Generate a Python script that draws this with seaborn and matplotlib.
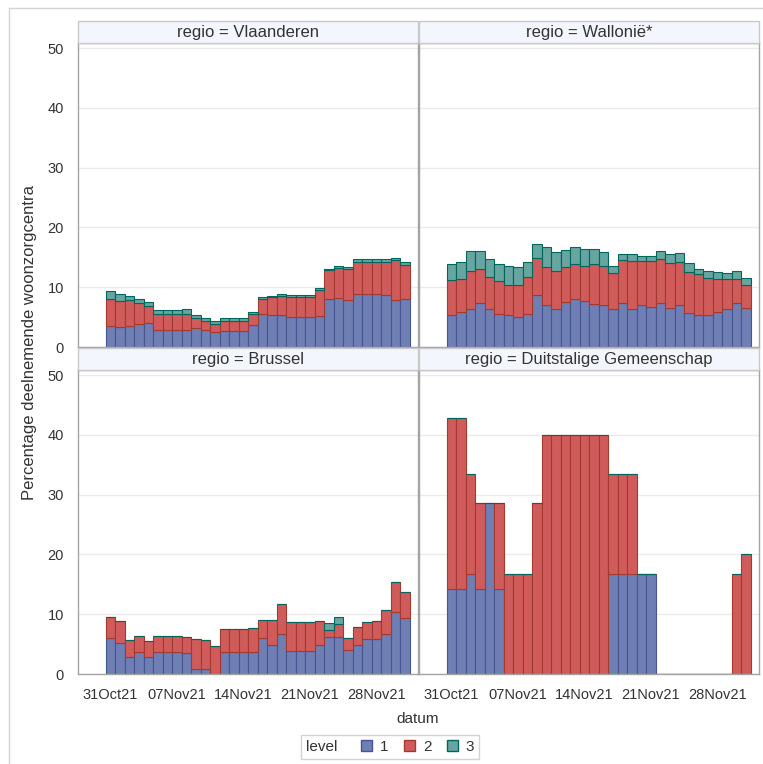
import numpy as np
import pandas as pd
import matplotlib
matplotlib.use("Agg")
import matplotlib.pyplot as plt
import matplotlib.dates as mdates
from matplotlib.patches import Rectangle, Patch
from matplotlib.lines import Line2D
import seaborn as sns

# ---------------------------------------------------------------- data
dates = pd.date_range("2021-10-31", "2021-12-01", freq="D")
regions = ["Vlaanderen", "Wallonië*", "Brussel", "Duitstalige Gemeenschap"]
levels = ["1", "2", "3"]
tick_dates = ["2021-10-31", "2021-11-07", "2021-11-14", "2021-11-21", "2021-11-28"]

vla_1 = [3.5, 3.3, 3.5, 3.8, 4.0, 2.8, 2.8, 2.8, 2.9, 3.1, 2.9, 2.5, 2.7, 2.7, 2.7, 3.7,
         5.5, 5.3, 5.3, 5.0, 5.0, 5.1, 5.2, 8.0, 8.2, 7.8, 8.8, 8.8, 8.8, 8.7, 7.8, 8.0]
vla_2 = [4.5, 4.4, 4.4, 3.6, 2.9, 2.8, 2.8, 2.8, 2.7, 1.7, 1.5, 1.3, 1.6, 1.6, 1.6, 1.8,
         2.6, 3.0, 3.3, 3.4, 3.4, 3.3, 4.4, 4.8, 5.0, 5.3, 5.5, 5.5, 5.5, 5.6, 6.7, 5.7]
vla_3 = [1.4, 1.1, 0.6, 0.7, 0.6, 0.6, 0.6, 0.6, 0.8, 0.5, 0.5, 0.5, 0.5, 0.5, 0.5, 0.4,
         0.2, 0.2, 0.3, 0.3, 0.3, 0.3, 0.3, 0.3, 0.3, 0.3, 0.4, 0.4, 0.4, 0.4, 0.4, 0.6]

wal_1 = [5.3, 5.8, 6.3, 7.4, 6.4, 5.5, 5.3, 5.1, 5.5, 8.7, 7.1, 6.4, 7.5, 8.1, 7.7, 7.2,
         7.1, 6.3, 7.4, 6.4, 7.1, 6.7, 7.3, 6.6, 7.0, 5.7, 5.4, 5.4, 5.8, 6.3, 7.3, 6.6]
wal_2 = [5.9, 5.5, 6.4, 5.7, 5.3, 5.5, 5.1, 5.3, 6.2, 6.2, 6.3, 6.3, 5.8, 5.7, 5.9, 6.6,
         6.5, 6.1, 7.2, 8.0, 7.3, 7.7, 7.5, 7.5, 7.2, 6.8, 6.8, 6.2, 5.6, 5.1, 4.1, 3.7]
wal_3 = [2.6, 3.0, 3.4, 3.0, 3.0, 2.9, 3.1, 2.9, 2.6, 2.4, 3.3, 3.2, 2.9, 2.9, 2.8, 2.6,
         2.3, 1.2, 1.0, 1.2, 0.9, 0.9, 1.3, 1.5, 1.5, 1.6, 0.8, 1.1, 1.2, 0.9, 1.3, 1.2]

bru_1 = [6.1, 5.2, 2.8, 3.7, 2.8, 3.6, 3.6, 3.6, 3.5, 0.9, 0.8, 0.0, 3.7, 3.7, 3.7, 3.7,
         6.0, 4.9, 6.7, 3.8, 3.8, 3.8, 4.8, 6.2, 6.2, 4.0, 4.8, 5.8, 5.8, 6.7, 10.3, 9.4]
bru_2 = [3.5, 3.6, 2.9, 2.7, 2.7, 2.8, 2.8, 2.8, 2.7, 5.0, 4.9, 4.7, 3.9, 3.9, 3.9, 4.0,
         3.1, 4.2, 5.0, 4.9, 4.9, 4.9, 4.1, 1.1, 2.1, 2.1, 3.0, 2.9, 3.0, 4.0, 5.1, 4.3]
bru_3 = [0.0, 0.0, 0.0, 0.0, 0.0, 0.0, 0.0, 0.0, 0.0, 0.0, 0.0, 0.0, 0.0, 0.0, 0.0, 0.0,
         0.0, 0.0, 0.0, 0.0, 0.0, 0.0, 0.0, 1.3, 1.3, 0.0, 0.0, 0.0, 0.0, 0.0, 0.0, 0.0]

dg_1 = [14.3, 14.3, 16.7, 14.3, 28.6, 14.3, 0, 0, 0, 0, 0, 0, 0, 0, 0, 0,
        0, 16.7, 16.7, 16.7, 16.7, 16.7, 0, 0, 0, 0, 0, 0, 0, 0, 0, 0]
dg_2 = [28.6, 28.6, 16.7, 14.3, 0, 14.3, 16.7, 16.7, 16.7, 28.6, 40, 40, 40, 40, 40, 40,
        40, 16.7, 16.7, 16.7, 0, 0, 0, 0, 0, 0, 0, 0, 0, 0, 16.7, 20]
dg_3 = [0] * 32

series = {
    "Vlaanderen": [vla_1, vla_2, vla_3],
    "Wallonië*": [wal_1, wal_2, wal_3],
    "Brussel": [bru_1, bru_2, bru_3],
    "Duitstalige Gemeenschap": [dg_1, dg_2, dg_3],
}

rows = []
for reg in regions:
    for lev, vals in zip(levels, series[reg]):
        for d, v in zip(dates, vals):
            rows.append({"datum": d, "regio": reg, "level": lev, "percentage": v})
df = pd.DataFrame(rows)

fills = ["#6F7EB3", "#D05B5B", "#66A5A0"]
edges = ["#445694", "#A23A2E", "#01665E"]

# ---------------------------------------------------------------- style
sns.set_theme(style="white")
plt.rcParams["font.family"] = ["Liberation Sans", "DejaVu Sans"]
plt.rcParams["text.color"] = "#333333"

W, H = 763, 764


def stacked_bars(data, **kws):
    ax = plt.gca()
    wide = data.pivot(index="datum", columns="level", values="percentage").reindex(columns=levels)
    x = mdates.date2num(wide.index)
    base = np.zeros(len(wide))
    for lev, fc, ec in zip(levels, fills, edges):
        v = wide[lev].to_numpy(dtype=float)
        ax.bar(x, v, bottom=base, width=1.0, color=fc, edgecolor=ec,
               linewidth=0.8, zorder=2)
        base += v


g = sns.FacetGrid(df, col="regio", col_wrap=2, col_order=regions,
                  height=3.04, aspect=340 / 304, sharex=True, sharey=True,
                  despine=False)
g.map_dataframe(stacked_bars)

fig = g.figure
fig.set_size_inches(W / 100, H / 100)
fig.set_dpi(100)

ax_h = 304
fig.subplots_adjust(left=78 / W, right=759 / W, top=1 - 43 / H, bottom=1 - 674 / H,
                    wspace=1 / 340, hspace=23 / ax_h)

x0 = mdates.date2num(dates[0])
x1 = mdates.date2num(dates[-1])
ticks = mdates.date2num(pd.to_datetime(tick_dates))

strip_h = 21.5 / ax_h
for i, ax in enumerate(g.axes.flat):
    ax.set_xlim(x0 - 3.4, x1 + 1.35)
    ax.set_ylim(0, 50.85)
    ax.set_yticks([0, 10, 20, 30, 40, 50])
    ax.set_xticks(ticks)
    ax.xaxis.set_major_formatter(mdates.DateFormatter("%d%b%y"))
    ax.yaxis.grid(True, color="#ebebeb", linewidth=1.0, zorder=0)
    ax.xaxis.grid(False)
    ax.set_axisbelow(True)
    for sp in ax.spines.values():
        sp.set_visible(True)
        sp.set_color("#a4a4a4")
        sp.set_linewidth(1.0)
    ax.tick_params(axis="both", which="both", direction="out", length=6, width=1,
                   color="#a4a4a4", labelcolor="#333333", labelsize=10.5, pad=4)
    col = i % 2
    row = i // 2
    if row == 0:
        ax.tick_params(axis="x", length=0, labelbottom=False)
    if col == 1:
        ax.tick_params(axis="y", length=0, labelleft=False)
    ax.set_xlabel("")
    ax.set_ylabel("")
    # header strip above each panel
    ax.add_patch(Rectangle((0, 1), 1, strip_h, transform=ax.transAxes,
                           facecolor="#f4f6fd", edgecolor="#c9c9c9",
                           linewidth=1.0, clip_on=False, zorder=3))

g.set_titles(col_template="{col_var} = {col_name}", y=1 + strip_h / 2, pad=0,
             va="center", fontsize=10, color="#333333")
for ax in g.axes.flat:
    ax.title.set_zorder(4)

fig.text(30 / W, 1 - 343 / H, "Percentage deelnemende woonzorgcentra",
         rotation=90, ha="center", va="center", fontsize=12, color="#333333")
fig.text(418 / W, 1 - 719 / H, "datum", ha="center", va="center",
         fontsize=11, color="#333333")

# legend with its title on the left side
handles = [Patch(facecolor=fc, edgecolor=ec, linewidth=1.0) for fc, ec in zip(fills, edges)]
leg = fig.legend(handles, levels, title="level  ", ncol=3, loc="center",
                 bbox_to_anchor=(390 / W, 1 - 747 / H), frameon=True, fancybox=False,
                 edgecolor="#c9c9c9", fontsize=11, title_fontsize=11,
                 handlelength=0.75, handleheight=0.75, handletextpad=0.5,
                 columnspacing=1.0, borderpad=0.3)
leg.get_frame().set_linewidth(1.0)
box = leg._legend_box
title_box, hbox = box.get_children()
box._children = [hbox]
hbox._children = [title_box] + hbox.get_children()

# light frame around the graph area
fig.add_artist(Line2D([9 / W, 9 / W], [0, 1 - 8 / H], transform=fig.transFigure,
                      color="#d4d4d4", linewidth=1.0))
fig.add_artist(Line2D([9 / W, 1], [1 - 8 / H, 1 - 8 / H], transform=fig.transFigure,
                      color="#d4d4d4", linewidth=1.0))

fig.savefig("out.png", dpi=100)
